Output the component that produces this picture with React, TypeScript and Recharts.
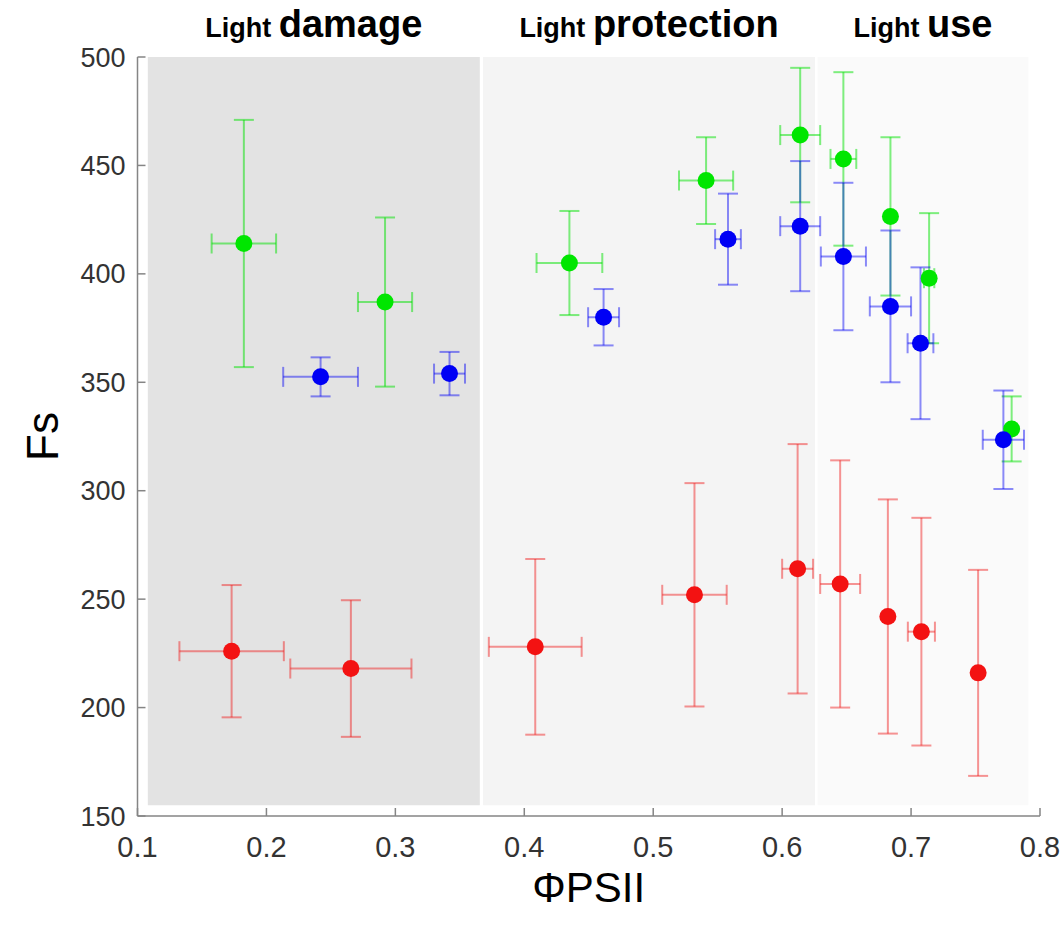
import { ScatterChart, Scatter, XAxis, YAxis, ErrorBar, ReferenceArea } from 'recharts'

const xTicks = [0.1, 0.2, 0.3, 0.4, 0.5, 0.6, 0.7, 0.8]
const yTicks = [150, 200, 250, 300, 350, 400, 450, 500]

// shaded zones
const zoneStart = [0.108, 0.368, 0.6275]
const zoneEnd = [0.3655, 0.6255, 0.791]
const zoneSmall = ['Light', 'Light', 'Light']
const zoneBig = ['damage', 'protection', 'use']
const zoneFills = ['#e3e3e3', '#f4f4f4', '#fafafa']

const redX = [0.173, 0.2655, 0.4085, 0.532, 0.612, 0.645, 0.682, 0.708, 0.752]
const redY = [226, 218, 228, 252, 264, 257, 242, 235, 216]
const redEx = [0.0405, 0.047, 0.036, 0.025, 0.012, 0.0155, 0, 0.0105, 0]
const redEy = [30.5, 31.5, 40.5, 51.5, 57.5, 57, 54, 52.5, 47.5]

const greenX = [0.1825, 0.292, 0.435, 0.541, 0.614, 0.6475, 0.684, 0.714, 0.778]
const greenY = [414, 387, 405, 443, 464, 453, 426.5, 398, 328.5]
const greenEx = [0.025, 0.021, 0.0255, 0.021, 0.0155, 0.01, 0, 0.004, 0]
const greenEy = [57, 39, 24, 20, 31, 40, 36.5, 30, 15]

const blueX = [0.242, 0.342, 0.4615, 0.558, 0.614, 0.6475, 0.684, 0.7073, 0.7716]
const blueY = [352.5, 354, 380, 416, 422, 408, 385, 368, 323.5]
const blueEx = [0.029, 0.012, 0.012, 0.01, 0.0155, 0.0175, 0.016, 0.01, 0.016]
const blueEy = [9, 10, 13, 21, 30, 34, 35, 35, 22.7]

const rows = (xs: number[], ys: number[], exs: number[], eys: number[]) =>
  xs.map((x, i) => ({ x, y: ys[i], ex: exs[i], ey: eys[i] }))

const redData = rows(redX, redY, redEx, redEy)
const greenData = rows(greenX, greenY, greenEx, greenEy)
const blueData = rows(blueX, blueY, blueEx, blueEy)

const FONT = '"Liberation Sans", Arial, sans-serif'
const AXIS = '#858585'

const XTick = ({ x, y, payload }: any) => (
  <g>
    <line x1={x} y1={y} x2={x} y2={y - 8} stroke={AXIS} strokeWidth={1.5} />
    <text x={x} y={y + 41} textAnchor="middle" fontSize={29} fontFamily={FONT} fill="#333">
      {Number(payload.value).toFixed(1)}
    </text>
  </g>
)

const YTick = ({ x, y, payload }: any) => (
  <g>
    <line x1={x} y1={y} x2={x + 8} y2={y} stroke={AXIS} strokeWidth={1.5} />
    <text x={x - 12} y={y + 9.5} textAnchor="end" fontSize={27} fontFamily={FONT} fill="#333">
      {payload.value}
    </text>
  </g>
)

const zoneTitle = (small: string, big: string) => (props: any) => {
  const vb = props.viewBox || props
  return (
    <text
      x={vb.x + vb.width / 2}
      y={vb.y - 20}
      textAnchor="middle"
      fontFamily={FONT}
      fontWeight="bold"
      fill="#000"
    >
      <tspan fontSize={27}>{small} </tspan>
      <tspan fontSize={38}>{big}</tspan>
    </text>
  )
}

const dot = (color: string) => (p: any) => <circle cx={p.cx} cy={p.cy} r={8.5} fill={color} />

export default function App() {
  return (
    <div style={{ position: 'absolute', left: 0, top: 0, background: '#fff' }}>
      <ScatterChart width={1062} height={930} margin={{ top: 57, right: 22, bottom: 0, left: 0 }}>
        {zoneStart.map((x1, i) => (
          <ReferenceArea
            key={i}
            x1={x1}
            x2={zoneEnd[i]}
            y1={155}
            y2={500}
            fill={zoneFills[i]}
            fillOpacity={1}
            stroke="none"
            label={zoneTitle(zoneSmall[i], zoneBig[i])}
          />
        ))}
        <XAxis
          type="number"
          dataKey="x"
          domain={[0.1, 0.8]}
          ticks={xTicks}
          allowDataOverflow
          height={114}
          tickSize={0}
          tickMargin={0}
          tickLine={false}
          tick={<XTick />}
          axisLine={{ stroke: AXIS, strokeWidth: 1.5 }}
          label={{ value: 'ΦPSII', position: 'insideBottom', offset: 28, fontSize: 42, fill: '#000', fontFamily: FONT }}
        />
        <YAxis
          type="number"
          dataKey="y"
          domain={[150, 500]}
          ticks={yTicks}
          allowDataOverflow
          width={137.5}
          tickSize={0}
          tickMargin={0}
          tickLine={false}
          tick={<YTick />}
          axisLine={{ stroke: AXIS, strokeWidth: 1.5 }}
          label={{
            value: 'Fs',
            angle: -90,
            position: 'insideLeft',
            offset: 42,
            fontSize: 44,
            fill: '#000',
            fontFamily: FONT,
            style: { textAnchor: 'middle' },
          }}
        />
        <Scatter data={redData} shape={dot('#f31212')} isAnimationActive={false}>
          <ErrorBar dataKey="ex" direction="x" width={10} stroke="rgba(240,20,20,0.45)" strokeWidth={2} />
          <ErrorBar dataKey="ey" direction="y" width={10} stroke="rgba(240,20,20,0.45)" strokeWidth={2} />
        </Scatter>
        <Scatter data={greenData} shape={dot('#00e600')} isAnimationActive={false}>
          <ErrorBar dataKey="ex" direction="x" width={10} stroke="rgba(0,225,0,0.5)" strokeWidth={2} />
          <ErrorBar dataKey="ey" direction="y" width={10} stroke="rgba(0,225,0,0.5)" strokeWidth={2} />
        </Scatter>
        <Scatter data={blueData} shape={dot('#0000f5')} isAnimationActive={false}>
          <ErrorBar dataKey="ex" direction="x" width={10} stroke="rgba(0,0,245,0.45)" strokeWidth={2} />
          <ErrorBar dataKey="ey" direction="y" width={10} stroke="rgba(0,0,245,0.45)" strokeWidth={2} />
        </Scatter>
      </ScatterChart>
    </div>
  )
}
